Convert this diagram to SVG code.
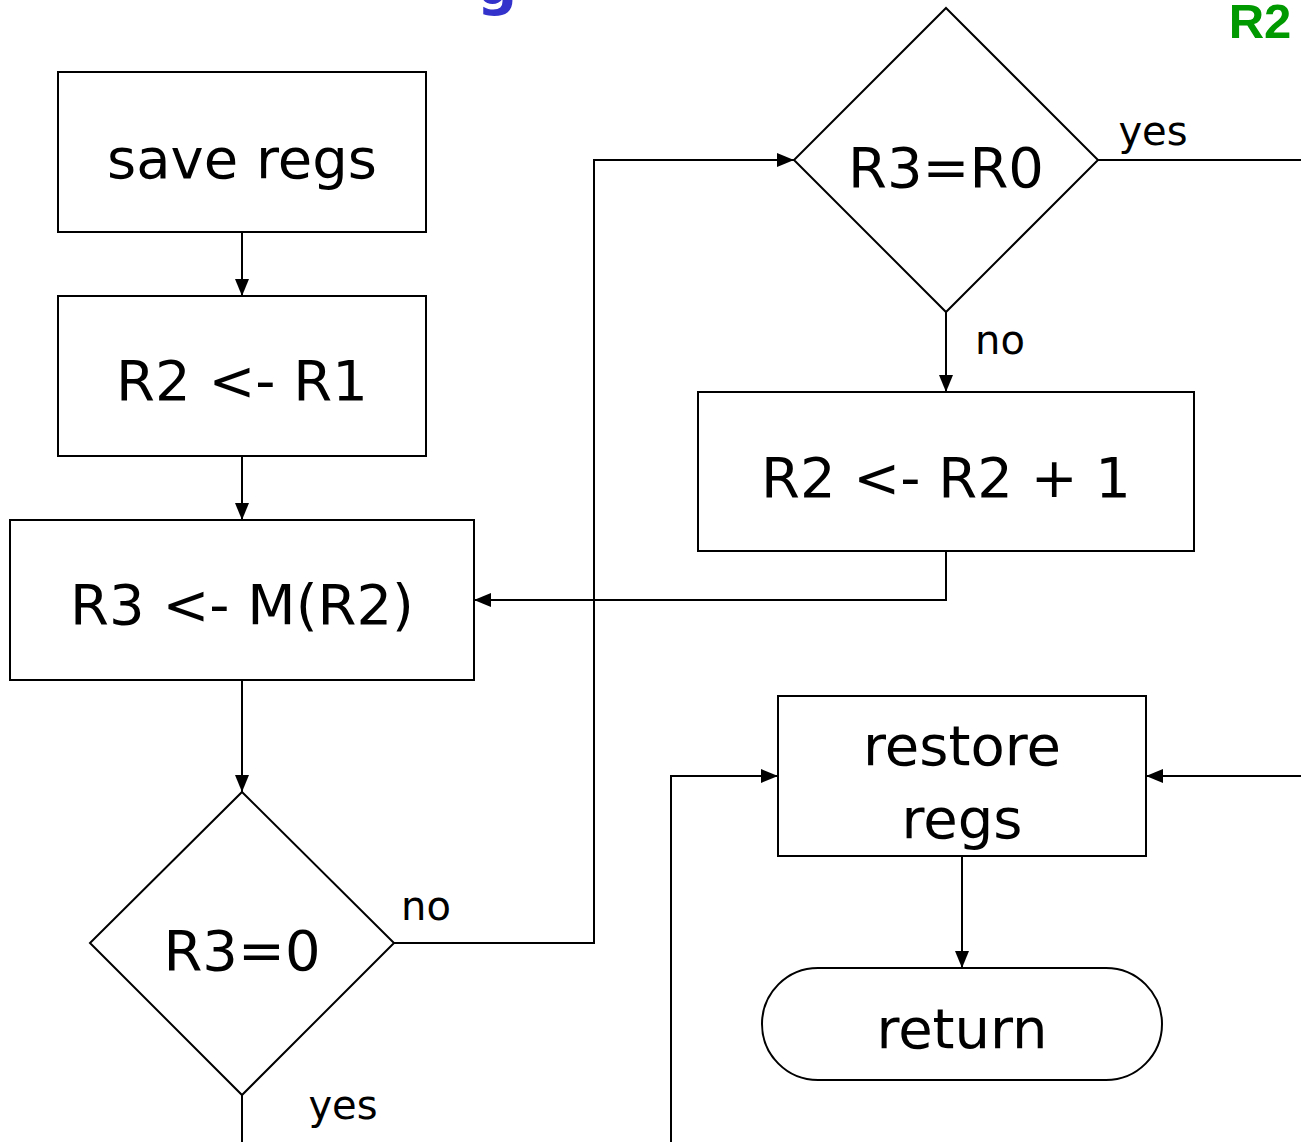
<svg xmlns="http://www.w3.org/2000/svg" width="1301" height="1142" viewBox="0 0 1301 1142">
<style>
.box{fill:#fff;stroke:#000;stroke-width:2}
.t{font-family:"DejaVu Sans",Verdana,sans-serif;font-size:56px;fill:#000;text-anchor:middle}
.l{font-family:"DejaVu Sans",Verdana,sans-serif;font-size:40px;fill:#000;text-anchor:middle}
.c{fill:none;stroke:#000;stroke-width:2}
</style>
<defs>
<marker id="ah" markerWidth="18" markerHeight="16" refX="17" refY="8" orient="auto" markerUnits="userSpaceOnUse">
<path d="M0,1 L17,8 L0,15 Z" fill="#000"/>
</marker>
</defs>
<rect width="1301" height="1142" fill="#fff"/>
<text x="497" y="4" font-family="'DejaVu Sans',Verdana,sans-serif" font-size="56" font-weight="bold" fill="#3333cc" text-anchor="middle">g</text>
<text x="1260" y="38" font-family="'Liberation Sans',Arial,sans-serif" font-size="49" font-weight="bold" fill="#009900" text-anchor="middle">R2</text>
<g id="connectors">
<path class="c" d="M242,232 V296" marker-end="url(#ah)"/>
<path class="c" d="M242,456 V520" marker-end="url(#ah)"/>
<path class="c" d="M242,680 V792" marker-end="url(#ah)"/>
<path class="c" d="M394,943 H594 V160 H794" marker-end="url(#ah)"/>
<path class="c" d="M242,1095 V1142"/>
<path class="c" d="M1098,160 H1301"/>
<path class="c" d="M946,312 V392" marker-end="url(#ah)"/>
<path class="c" d="M946,551 V600 H474" marker-end="url(#ah)"/>
<path class="c" d="M671,1142 V776 H778" marker-end="url(#ah)"/>
<path class="c" d="M1301,776 H1146" marker-end="url(#ah)"/>
<path class="c" d="M962,856 V968" marker-end="url(#ah)"/>
<text class="l" x="426" y="920">no</text>
<text class="l" x="343" y="1119">yes</text>
<text class="l" x="1153" y="145">yes</text>
<text class="l" x="1000" y="354">no</text>
</g>
<g id="save-regs"><rect class="box" x="58" y="72" width="368" height="160"/><text class="t" x="242" y="178">save regs</text></g>
<g id="r2-r1"><rect class="box" x="58" y="296" width="368" height="160"/><text class="t" x="242" y="400">R2 &lt;- R1</text></g>
<g id="r3-mr2"><rect class="box" x="10" y="520" width="464" height="160"/><text class="t" x="242" y="624">R3 &lt;- M(R2)</text></g>
<g id="r3-eq-0"><polygon class="box" points="242,792 394,943 242,1095 90,943"/><text class="t" x="242" y="970">R3=0</text></g>
<g id="r3-eq-r0"><polygon class="box" points="946,8 1098,160 946,312 794,160"/><text class="t" x="946" y="187">R3=R0</text></g>
<g id="r2-inc"><rect class="box" x="698" y="392" width="496" height="159"/><text class="t" x="946" y="497">R2 &lt;- R2 + 1</text></g>
<g id="restore-regs"><rect class="box" x="778" y="696" width="368" height="160"/><text class="t" x="962" y="765">restore</text><text class="t" x="962" y="838">regs</text></g>
<g id="return"><rect class="box" x="762" y="968" width="400" height="112" rx="56" ry="56"/><text class="t" x="962" y="1048">return</text></g>
</svg>
